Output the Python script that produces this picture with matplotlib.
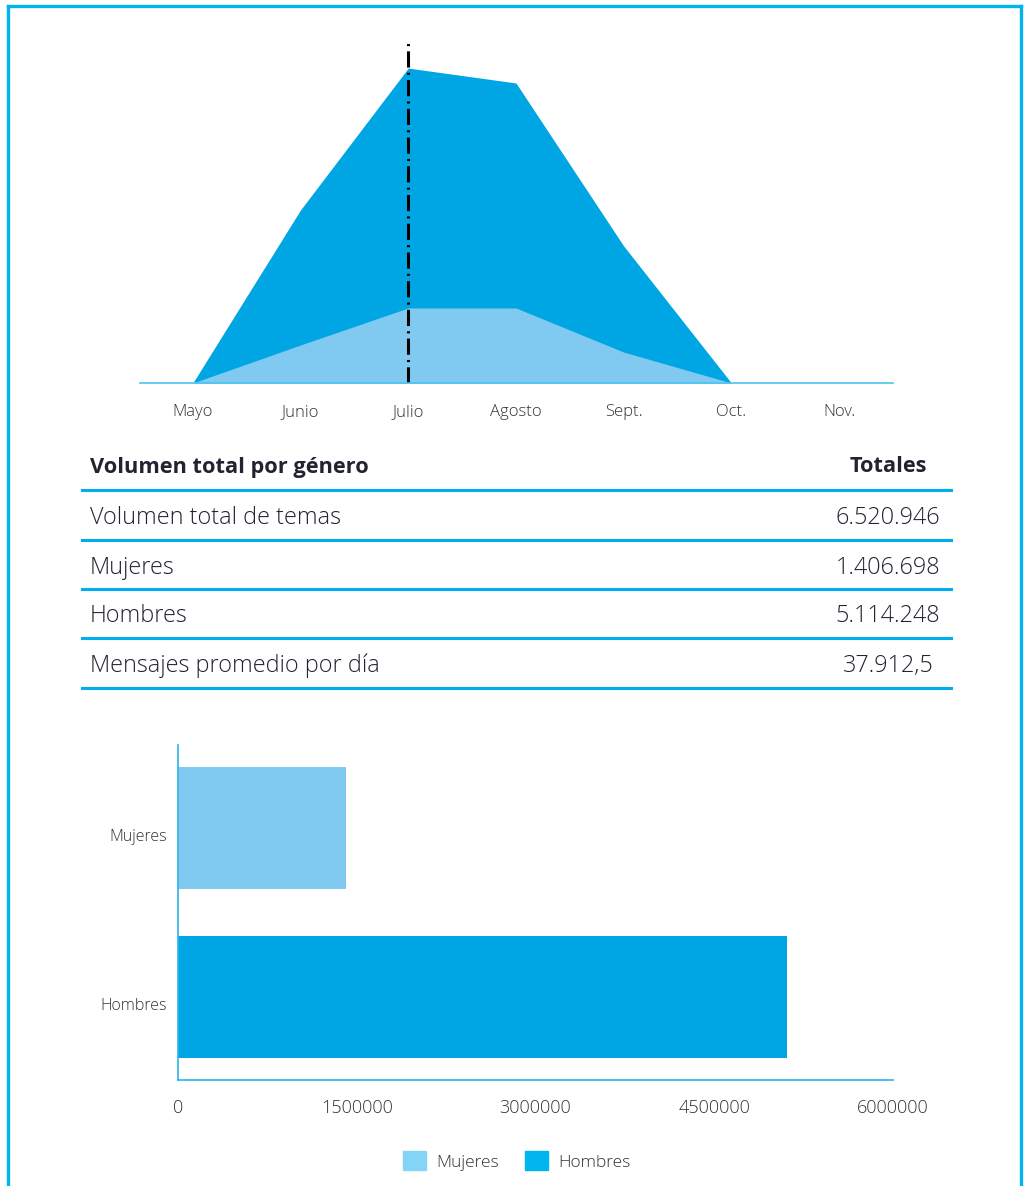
import matplotlib.pyplot as plt
from matplotlib.lines import Line2D
from matplotlib.patches import Patch
from matplotlib.transforms import ScaledTranslation

plt.rcParams['font.family'] = ['Open Sans', 'DejaVu Sans']

DARK = "#00A6E3"
LIGHT = "#80C9F0"
LINE = "#00AEEF"
TXT = "#222230"

# monthly volume (approx.)
months = ["Mayo", "Junio", "Julio", "Agosto", "Sept.", "Oct.", "Nov."]
total_vol = [0, 1220000, 2220000, 2115000, 966000, 0, 0]
mujeres_vol = [0, 268000, 529000, 529000, 218000, 0, 0]
marker_month = 2  # Julio

# table
table_head = ("Volumen total por género", "Totales")
table_rows = ["Volumen total de temas", "Mujeres", "Hombres", "Mensajes promedio por día"]
table_vals = ["6.520.946", "1.406.698", "5.114.248", "37.912,5"]

# bars
bar_cats = ["Hombres", "Mujeres"]
bar_vals = [5114248, 1406698]
bar_cols = [DARK, LIGHT]
xticks = [0, 1500000, 3000000, 4500000, 6000000]

W, H = 1025, 1186
fig = plt.figure(figsize=(W / 100, H / 100), dpi=100)

def rect(x0, y0, x1, y1):
    # pixel box (top-left origin) -> figure fraction
    return [x0 / W, 1 - y1 / H, (x1 - x0) / W, (y1 - y0) / H]

def fx(px):
    return px / W

def fy(py):
    return 1 - py / H

# frame
for xs, ys in [((8, 8), (H + 5, 6)), ((8, 1021), (6, 6)), ((1021, 1021), (6, H + 5))]:
    fig.add_artist(Line2D([fx(v) for v in xs], [fy(v) for v in ys],
                          color="#00B4EE", lw=2.4, transform=fig.transFigure))

# --- area chart
ax = fig.add_axes(rect(140, 40, 893, 383))
x = range(len(months))
ax.fill_between(x, total_vol, color=DARK, lw=0)
ax.fill_between(x, mujeres_vol, color=LIGHT, lw=0)
ax.set_xlim(-0.49, 6.5)
ax.set_ylim(0, 2418000)
ax.axvline(marker_month, ymin=0, ymax=(383 - 42) / 343, color="black", lw=2.2,
           linestyle=(0, (5.3, 1.7, 0.7, 1.7)))
for s in ["top", "right", "left"]:
    ax.spines[s].set_visible(False)
ax.spines["bottom"].set_color("#4DC3EE")
ax.spines["bottom"].set_linewidth(1.2)
ax.set_yticks([])
ax.set_xticks(list(x))
ax.set_xticklabels(months, fontsize=12, color="#333333", fontweight="light")
ax.tick_params(axis="x", length=0, pad=15)

# --- table
fig.text(fx(90), fy(467), table_head[0], fontsize=15.7, fontweight="bold", color=TXT, va="center")
fig.text(fx(888), fy(467), table_head[1], fontsize=15.7, fontweight="bold", color=TXT,
         va="center", ha="center")
line_y = [490, 540, 589, 638, 688]
for ly in line_y:
    fig.add_artist(Line2D([fx(82), fx(951)], [fy(ly), fy(ly)], color=LINE, lw=2.2,
                          transform=fig.transFigure))
for i, (lab, val) in enumerate(zip(table_rows, table_vals)):
    yc = (line_y[i] + line_y[i + 1]) / 2 + 3
    fig.text(fx(90), fy(yc), lab, fontsize=16.8, color=TXT, va="center", fontweight="light")
    fig.text(fx(888), fy(yc), val, fontsize=16.8, color=TXT, va="center", ha="center",
             fontweight="light")

# --- bar chart
bx = fig.add_axes(rect(178, 745, 893, 1080))
bx.barh(range(len(bar_cats)), bar_vals, height=0.72, color=bar_cols)
bx.set_xlim(0, 6000000)
bx.set_ylim(-0.49, 1.49)
bx.set_yticks(range(len(bar_cats)))
bx.set_yticklabels(bar_cats, fontsize=11.5, color="#333333", fontweight="light")
bx.set_xticks(xticks)
bx.set_xticklabels([str(v) for v in xticks], fontsize=13, color="#333333", fontweight="light")
bx.tick_params(length=0)
bx.tick_params(axis="x", pad=14)
bx.tick_params(axis="y", pad=8)
shift = ScaledTranslation(0, -7 / 100, fig.dpi_scale_trans)
for lab in bx.get_yticklabels():
    lab.set_transform(lab.get_transform() + shift)
for s in ["top", "right"]:
    bx.spines[s].set_visible(False)
for s in ["left", "bottom"]:
    bx.spines[s].set_color("#29B5E8")
    bx.spines[s].set_linewidth(1.2)

handles = [Patch(color="#84D4F7", label="Mujeres"), Patch(color="#00B4EE", label="Hombres")]
fig.legend(handles=handles, loc="center", bbox_to_anchor=(fx(517), fy(1161)), ncol=2,
           frameon=False, handlelength=1.3, handleheight=1.3,
           handletextpad=0.6, columnspacing=1.5, labelcolor="#333333",
           prop={"size": 12.5, "weight": "light"})

fig.savefig("out.png", dpi=100)
